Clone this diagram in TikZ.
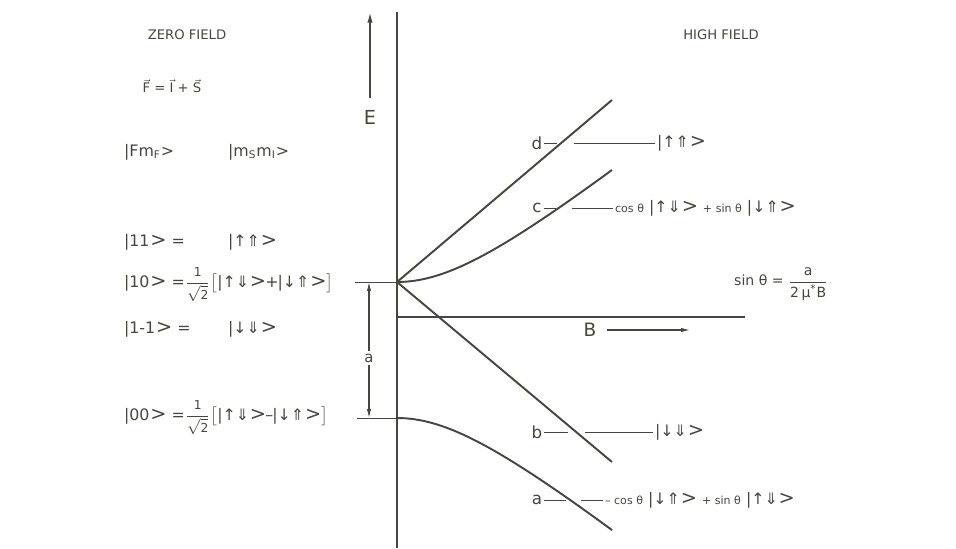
\documentclass[tikz,border=0pt]{standalone}
\usepackage{amsmath}
\usepackage{fontspec}
\setmainfont{DejaVu Sans}
\usetikzlibrary{arrows.meta}
\definecolor{ink}{RGB}{70,70,60}
\newcommand\kt[1]{|#1\kern0.5pt{\fontsize{11}{11}\selectfont>}}
\newcommand\sm[1]{{\fontsize{6.3}{7}\selectfont #1}}
\newcommand\hfr{$\dfrac{\text{\fontsize{7}{7}\selectfont 1}}{\sqrt{\text{\fontsize{7}{7}\selectfont 2}}}$}

\begin{document}
\begin{tikzpicture}[
      x=0.02cm, y=-0.02cm,
      color=ink,
      font=\fontsize{7.5}{9}\selectfont,
      ket/.style={
        anchor=west,
        inner sep=1pt,
        font=\fontsize{9}{10}\selectfont
      },
      lbl/.style={
        inner sep=1pt,
        font=\fontsize{9.5}{10}\selectfont
      },
      curve/.style={line width=1.1pt},
      lead/.style={line width=0.5pt},
      axis/.style={line width=1pt},
      arr/.style={-{Latex[length=6pt,width=3pt]}, line width=0.9pt},
      dim/.style={{Latex[length=5pt,width=2.4pt]}-{Latex[length=5pt,width=2.4pt]}, line width=0.6pt}
    ]
    \useasboundingbox (0,0) rectangle (956,548);

    \node (zf) at (187,35) {ZERO FIELD};
    \node (hf) at (721,35) {HIGH FIELD};
    \node (fis) at (172,86) {$\vec{\text{F}}$ = $\vec{\text{I}}$ + $\vec{\text{S}}$};

    \node[ket] (hfm) at (122,152) {|Fm\textsubscript{F}>};
    \node[ket] (hms) at (226,152) {|m\textsubscript{S}m\textsubscript{I}>};

    \node[ket] (s11) at (122,242) {\kt{11} =};
    \node[ket] (u11) at (226,242) {\kt{↑⇑}};
    \node[ket] (s10) at (122,285) {\kt{10} =\hfr$\big[$\kt{↑⇓}\kern-0.5pt+\kern-0.5pt\kt{↓⇑}$\big]$};
    \node[ket] (s1m) at (122,329) {\kt{1-1} =};
    \node[ket] (u1m) at (226,329) {\kt{↓⇓}};
    \node[ket] (s00) at (122,418) {\kt{00} =\hfr$\big[$\kt{↑⇓}\kern-0.5pt--\kern-0.5pt\kt{↓⇑}$\big]$};

    % axes
    \coordinate (o) at (397,282);
    \coordinate (o2) at (397,418);
    \coordinate (atop) at (397,12);
    \coordinate (abot) at (397,548);
    \draw[axis] (atop) -- (abot);
    \node[lbl, font=\fontsize{11}{12}\selectfont] (E) at (370,117) {E};
    \coordinate (etail) at (370,98);
    \coordinate (etip) at (370,12);
    \draw[arr] (etail) -- (etip);

    \coordinate (t1) at (355,282);
    \coordinate (t2) at (357,418);
    \draw[lead] (t1) -- (o);
    \draw[lead] (t2) -- (o2);
    \coordinate (m1) at (369,282);
    \coordinate (m2) at (369,418);
    \draw[dim] (m1) -- node[pos=0.56, fill=white, inner sep=1.5pt, font=\fontsize{8.5}{9}\selectfont] (gap) {a} (m2);

    \coordinate (bx0) at (397,317);
    \coordinate (bx1) at (745,317);
    \draw[line width=0.9pt] (bx0) -- (bx1);
    \node[lbl, font=\fontsize{10.5}{11}\selectfont] (B) at (590,330) {B};
    \coordinate (btip) at (690,330);
    \draw[-{Latex[length=5pt,width=2.4pt]}, line width=0.6pt] ([xshift=5pt]B.east) -- (btip);

    % levels
    \coordinate (dend) at (612,100);
    \coordinate (bend) at (612,462);
    \draw[curve] (o) -- (dend);
    \draw[curve] (o) -- (bend);
    \draw[curve] plot[domain=0:215, samples=50] ({397+\x},{282-10*(sqrt(57.76+(0.08*\x)^2)-7.6)});
    \draw[curve] plot[domain=0:215, samples=50] ({397+\x},{418+10*(sqrt(57.76+(0.08*\x)^2)-7.6)});

    \node[lbl] (ld) at (537,143) {d};
    \node[lbl] (lc) at (537,208) {c};
    \node[lbl] (lb) at (537,432) {b};
    \node[lbl] (la) at (537,500) {a};

    \node[ket] (kd) at (655,143) {\kt{↑⇑}};
    \node[ket] (kc) at (613,208) {\sm{cos θ} \kt{↑⇓} \sm{+ sin θ} \kt{↓⇑}};
    \node[ket] (kb) at (653,432) {\kt{↓⇓}};
    \node[ket] (ka) at (603,500) {\sm{-- cos θ} \kt{↓⇑} \sm{+ sin θ} \kt{↑⇓}};

    \coordinate (d1) at (557,143);
    \coordinate (d2) at (574,143);
    \coordinate (c1) at (556,208);
    \coordinate (c2) at (572,208);
    \coordinate (b1) at (568,432);
    \coordinate (b2) at (585,432);
    \coordinate (a1) at (566,500);
    \coordinate (a2) at (581,500);
    \draw[lead] (ld) -- (d1);
    \draw[lead] (d2) -- (kd);
    \draw[lead] (lc) -- (c1);
    \draw[lead] (c2) -- (kc);
    \draw[lead] (lb) -- (b1);
    \draw[lead] (b2) -- (kb);
    \draw[lead] (la) -- (a1);
    \draw[lead] (a2) -- (ka);

    \node[anchor=west, font=\fontsize{8}{9}\selectfont] (sth) at (728,284) {sin θ = $\dfrac{\text{a}}{\text{2\,μ\textsuperscript{*}B}}$};
    \end{tikzpicture}
\end{document}
